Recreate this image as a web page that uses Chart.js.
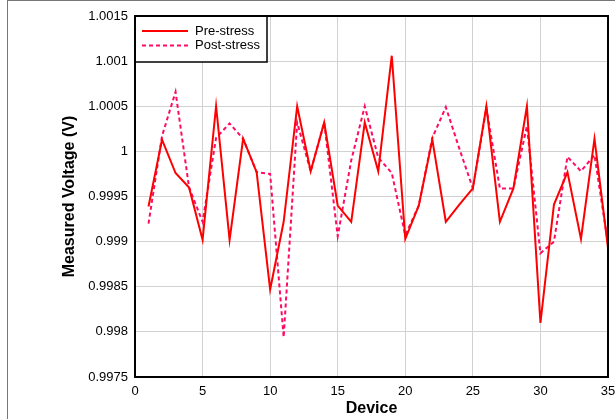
<!DOCTYPE html>
<html>
<head>
<meta charset="utf-8">
<script src="https://cdn.jsdelivr.net/npm/chart.js@4.4.0/dist/chart.umd.min.js"></script>
<style>
  html, body { margin: 0; padding: 0; background: #fff; }
  #wrap { position: relative; width: 615px; height: 419px; overflow: hidden; }
  #frame { position: absolute; left: 7px; top: 0; width: 640px; height: 440px;
           border-left: 1px solid #777; border-top: 1px solid #777; pointer-events: none; }
</style>
</head>
<body>
<div id="wrap">
  <canvas id="myChart" width="615" height="419"></canvas>
  <div id="frame"></div>
</div>
<script>
// DATA
const devices = [1, 2, 3, 4, 5, 6, 7, 8, 9, 10, 11, 12, 13, 14, 15, 16, 17, 18,
  19, 20, 21, 22, 23, 24, 25, 26, 27, 28, 29, 30, 31, 32, 33, 34, 35];
const preStress = [0.99939, 1.00013, 0.99976, 0.99960, 0.99902, 1.00050, 0.99902, 1.00014,
  0.99977, 0.99847, 0.99922, 1.00050, 0.99978, 1.00032, 0.99940, 0.99922, 1.00032, 0.99978,
  1.00106, 0.99903, 0.99940, 1.00013, 0.99922, 0.99941, 0.99959, 1.00050, 0.99922, 0.99959,
  1.00050, 0.99810, 0.99941, 0.99977, 0.99903, 1.00014, 0.99893];
const postStress = [0.99920, 1.00017, 1.00066, 0.99960, 0.99922, 1.00015, 1.00031, 1.00014,
  0.99977, 0.99975, 0.99794, 1.00032, 0.99978, 1.00032, 0.99906, 0.99990, 1.00050, 0.99993,
  0.99976, 0.99907, 0.99940, 1.00015, 1.00049, 1.00003, 0.99959, 1.00048, 0.99959, 0.99959,
  1.00028, 0.99887, 0.99900, 0.99994, 0.99978, 0.99996, 0.99898];
const xTicks = [0, 5, 10, 15, 20, 25, 30, 35];
const yTicks = [0.9975, 0.998, 0.9985, 0.999, 0.9995, 1, 1.0005, 1.001, 1.0015];
const yTickLabels = ['0.9975', '0.998', '0.9985', '0.999', '0.9995', '1', '1.0005', '1.001', '1.0015'];

const FONT = 'Arial, "Liberation Sans", sans-serif';

// LEGEND BOX + PLOT BORDER
const boxPlugin = {
  id: 'boxPlugin',
  afterDraw(chart) {
    const c = chart.ctx;
    const a = chart.chartArea;
    c.save();
    // legend box in top-left corner of plot
    const lx = a.left, ly = a.top, lw = 132, lh = 46;
    c.fillStyle = '#fff';
    c.fillRect(lx, ly, lw, lh);
    c.strokeStyle = '#000';
    c.lineWidth = 1.5;
    c.strokeRect(lx, ly, lw, lh);
    c.font = '13px ' + FONT;
    c.textBaseline = 'middle';
    chart.data.datasets.forEach((ds, i) => {
      const y = ly + 15 + i * 14.5;
      c.strokeStyle = ds.borderColor;
      c.lineWidth = ds.borderWidth;
      c.setLineDash(ds.borderDash || []);
      c.beginPath();
      c.moveTo(lx + 7, y);
      c.lineTo(lx + 53, y);
      c.stroke();
      c.setLineDash([]);
      c.fillStyle = '#000';
      c.fillText(ds.label, lx + 60, y);
    });
    // plot border
    c.strokeStyle = '#000';
    c.lineWidth = 2;
    c.strokeRect(a.left, a.top, a.right - a.left, a.bottom - a.top);
    c.restore();
  }
};

const ctx = document.getElementById('myChart').getContext('2d');
const myChart = new Chart(ctx, {
  type: 'line',
  data: {
    datasets: [{
      label: 'Pre-stress',
      data: devices.map((d, i) => ({ x: d, y: preStress[i] })),
      borderColor: '#ff0000',
      borderWidth: 2,
      pointRadius: 0,
      tension: 0
    }, {
      label: 'Post-stress',
      data: devices.map((d, i) => ({ x: d, y: postStress[i] })),
      borderColor: '#ff0a64',
      borderWidth: 2,
      borderDash: [4, 3],
      pointRadius: 0,
      tension: 0
    }]
  },
  options: {
    responsive: false,
    animation: false,
    layout: { padding: { left: 0, top: 16, right: 7, bottom: 0 } },
    plugins: { legend: { display: false }, tooltip: { enabled: false } },
    scales: {
      x: {
        type: 'linear',
        min: 0,
        max: 35,
        afterBuildTicks: (s) => { s.ticks = xTicks.map(v => ({ value: v })) },
        afterFit: (s) => { s.height = 42; s.paddingLeft = 0; s.paddingRight = 0 },
        grid: { color: '#d2d2d2', lineWidth: 1, drawTicks: false },
        border: { display: false },
        ticks: { color: '#000', font: { family: FONT, size: 13 }, padding: 7, maxRotation: 0 },
        title: { display: true, text: 'Device', color: '#000',
                 font: { family: FONT, size: 16, weight: 'bold' }, padding: { top: 0, bottom: 1 } }
      },
      y: {
        type: 'linear',
        min: 0.9975,
        max: 1.0015,
        afterBuildTicks: (s) => { s.ticks = yTicks.map(v => ({ value: v })) },
        afterFit: (s) => { s.width = 135; s.paddingTop = 0; s.paddingBottom = 0 },
        grid: { color: '#d2d2d2', lineWidth: 1, drawTicks: false },
        border: { display: false },
        ticks: { color: '#000', font: { family: FONT, size: 13 }, padding: 7,
                 callback: (v, i) => yTickLabels[i] },
        title: { display: true, text: 'Measured Voltage (V)', color: '#000',
                 font: { family: FONT, size: 16, weight: 'bold' }, padding: { top: 60, bottom: 0 } }
      }
    }
  },
  plugins: [boxPlugin]
});
</script>
</body>
</html>
